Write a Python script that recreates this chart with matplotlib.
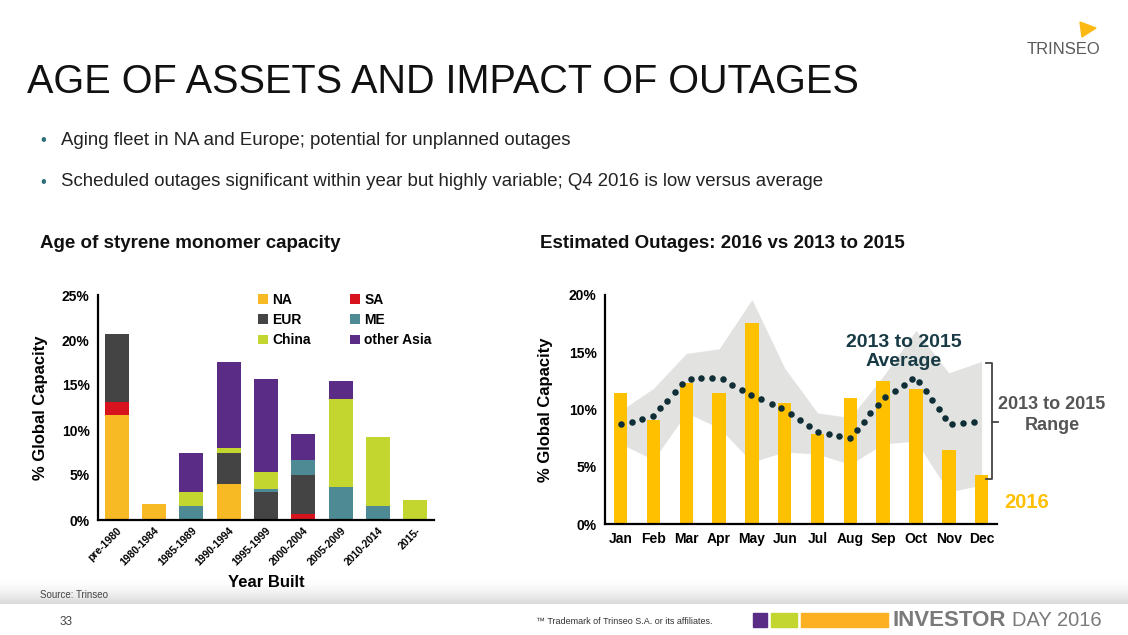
import numpy as np
import matplotlib
matplotlib.use('Agg')
import matplotlib.pyplot as plt
from matplotlib.patches import Rectangle, Polygon

plt.rcParams['font.family'] = ['Liberation Sans', 'DejaVu Sans']

# ---- left chart: age of styrene monomer capacity (% of global) ----
periods = ['pre-1980', '1980-1984', '1985-1989', '1990-1994', '1995-1999',
           '2000-2004', '2005-2009', '2010-2014', '2015-']
na = [11.7, 1.8, 0.0, 4.0, 0.0, 0.0, 0.0, 0.0, 0.0]
sa = [1.4, 0.0, 0.0, 0.0, 0.0, 0.7, 0.0, 0.0, 0.0]
eur = [7.6, 0.0, 0.0, 3.5, 3.1, 4.3, 0.0, 0.0, 0.0]
me = [0.0, 0.0, 1.6, 0.0, 0.3, 1.7, 3.7, 1.6, 0.0]
china = [0.0, 0.0, 1.5, 0.5, 1.9, 0.0, 9.8, 7.6, 2.25]
other_asia = [0.0, 0.0, 4.4, 9.6, 10.4, 2.9, 1.9, 0.0, 0.0]

# ---- right chart: estimated outages ----
months = ['Jan', 'Feb', 'Mar', 'Apr', 'May', 'Jun', 'Jul', 'Aug', 'Sep', 'Oct', 'Nov', 'Dec']
outages_2016 = [11.4, 9.1, 12.3, 11.4, 17.55, 10.6, 7.9, 11.0, 12.5, 11.8, 6.5, 4.3]
range_high = [9.9, 11.85, 14.9, 15.3, 19.6, 13.6, 9.7, 9.3, 12.9, 16.9, 13.2, 14.2]
range_low = [7.0, 5.6, 9.7, 8.4, 5.4, 6.3, 6.1, 5.2, 7.0, 7.25, 2.8, 3.4]
# dotted 2013-2015 average, read dot by dot (x in month units)
avg_x = [0.0, 0.33, 0.65, 0.98, 1.2, 1.42, 1.65, 1.87, 2.13, 2.46, 2.78, 3.11,
         3.39, 3.70, 3.98, 4.28, 4.61, 4.90, 5.19, 5.46, 5.74, 6.02, 6.34, 6.66,
         6.98, 7.20, 7.41, 7.61, 7.84, 8.06, 8.35, 8.62, 8.89, 9.10, 9.30, 9.50,
         9.69, 9.88, 10.11, 10.44, 10.77]
avg_y = [8.70, 8.94, 9.17, 9.43, 10.10, 10.77, 11.50, 12.23, 12.66, 12.72, 12.78, 12.64,
         12.17, 11.73, 11.24, 10.89, 10.51, 10.16, 9.64, 9.11, 8.59, 8.06, 7.89, 7.69,
         7.48, 8.21, 8.94, 9.69, 10.42, 11.09, 11.64, 12.17, 12.69, 12.37, 11.62, 10.80,
         10.01, 9.23, 8.76, 8.85, 8.94]

W, H = 1128, 635
fig = plt.figure(figsize=(W / 100, H / 100), dpi=100)
fig.patch.set_facecolor('white')

# grey fade above footer
grad = np.linspace(0, 1, 64).reshape(-1, 1) ** 1.5
bg = fig.add_axes([0, 1 - 604 / H, 1, 24 / H])
bg.imshow(grad, aspect='auto', cmap=matplotlib.colors.LinearSegmentedColormap.from_list('g', ['#ffffff', '#d9d9d9']),
          extent=[0, 1, 0, 1], origin='upper')
bg.axis('off')


def fx(px):
    return px / W


def fy(py):
    return 1 - py / H


# header
fig.text(fx(27), fy(82), 'AGE OF ASSETS AND IMPACT OF OUTAGES', fontsize=28.5, color='#111111', va='center')
fig.text(fx(1100), fy(50), 'TRINSEO', fontsize=12, color='#5a5a5a', ha='right', va='center')
fig.patches.append(Polygon([[fx(1080), fy(22)], [fx(1096), fy(28)], [fx(1082), fy(37)]],
                           closed=True, transform=fig.transFigure, color='#FDB913'))

bullets = ['Aging fleet in NA and Europe; potential for unplanned outages',
           'Scheduled outages significant within year but highly variable; Q4 2016 is low versus average']
for i, b in enumerate(bullets):
    yy = fy(140 + 42 * i)
    fig.text(fx(40), yy, '\u2022', fontsize=12, color='#2E6F78', va='center')
    fig.text(fx(61), yy, b, fontsize=13.4, color='#222222', va='center')

fig.text(fx(40), fy(244), 'Age of styrene monomer capacity', fontsize=13.5, fontweight='bold', color='#111111', va='center')
fig.text(fx(540), fy(244), 'Estimated Outages: 2016 vs 2013 to 2015', fontsize=13.5, fontweight='bold', color='#111111', va='center')

# ---- left chart ----
ax1 = fig.add_axes([fx(98), fy(520), fx(336), 225 / H])
colors = {'NA': '#F7B924', 'SA': '#D7141E', 'EUR': '#444444',
          'ME': '#4E8A94', 'China': '#C3D62F', 'other Asia': '#5B2C86'}
x = np.arange(len(periods))
bottom = np.zeros(len(periods))
handles = {}
for name, vals in [('NA', na), ('SA', sa), ('EUR', eur), ('ME', me), ('China', china), ('other Asia', other_asia)]:
    handles[name] = ax1.bar(x, vals, 0.64, bottom=bottom, color=colors[name], label=name)
    bottom += np.array(vals)
ax1.set_xlim(-0.5, 8.5)
ax1.set_ylim(0, 25)
ax1.set_yticks([0, 5, 10, 15, 20, 25])
ax1.set_yticklabels(['0%', '5%', '10%', '15%', '20%', '25%'], fontsize=10, fontweight='bold')
ax1.set_xticks(x)
ax1.set_xticklabels(periods, rotation=45, ha='right', rotation_mode='anchor', fontsize=7.5, fontweight='bold')
ax1.tick_params(length=0, pad=6)
ax1.tick_params(axis='x', pad=4)
for s in ['top', 'right']:
    ax1.spines[s].set_visible(False)
for s in ['left', 'bottom']:
    ax1.spines[s].set_linewidth(1.6)
ax1.set_ylabel('% Global Capacity', fontsize=12, fontweight='bold')
ax1.yaxis.set_label_coords(-0.15, 0.5)
ax1.set_xlabel('Year Built', fontsize=12, fontweight='bold', labelpad=0)
ax1.xaxis.set_label_coords(0.5, -0.245)
order = ['NA', 'EUR', 'China', 'SA', 'ME', 'other Asia']
ax1.legend([handles[n] for n in order], order, ncol=2, loc='upper right', bbox_to_anchor=(1.03, 1.065),
           frameon=False, prop={'weight': 'bold', 'size': 10}, handlelength=0.7, handleheight=0.7,
           handletextpad=0.3, columnspacing=2.85, labelspacing=0.45)

# ---- right chart ----
ax2 = fig.add_axes([fx(605), fy(524), fx(392), 229 / H])
m = np.arange(len(months))
ax2.fill_between(m, range_low, range_high, color='#E2E2E0', lw=0, zorder=1)
ax2.bar(m, outages_2016, 0.41, color='#FFC000', zorder=2)
ax2.scatter(avg_x, avg_y, s=22, color='#0F2E36', zorder=3, lw=0)
ax2.set_xlim(-0.48, 11.47)
ax2.set_ylim(0, 20)
ax2.set_yticks([0, 5, 10, 15, 20])
ax2.set_yticklabels(['0%', '5%', '10%', '15%', '20%'], fontsize=10, fontweight='bold')
ax2.set_xticks(m)
ax2.set_xticklabels(months, fontsize=10, fontweight='bold')
ax2.tick_params(length=0, pad=6)
for s in ['top', 'right']:
    ax2.spines[s].set_visible(False)
for s in ['left', 'bottom']:
    ax2.spines[s].set_linewidth(1.6)
ax2.set_ylabel('% Global Capacity', fontsize=12, fontweight='bold')
ax2.yaxis.set_label_coords(-0.133, 0.5)

fig.text(fx(904), fy(352), '2013 to 2015\nAverage', fontsize=14, fontweight='bold', color='#173A45',
         ha='center', va='center', linespacing=1.15)

# range bracket
bx, bt, bb = fx(992), fy(363), fy(479)
fig.lines.append(plt.Line2D([fx(986), bx, bx, fx(986)], [bt, bt, bb, bb], transform=fig.transFigure,
                            color='#444444', lw=1.3))
fig.lines.append(plt.Line2D([bx, fx(998)], [fy(422), fy(422)], transform=fig.transFigure, color='#444444', lw=1.3))
fig.text(fx(1052), fy(415), '2013 to 2015\nRange', fontsize=13, color='#555555', ha='center', va='center',
         linespacing=1.25, fontweight='bold')
fig.text(fx(1027), fy(503), '2016', fontsize=14.5, fontweight='bold', color='#FFC000', ha='center', va='center')

# footer
fig.text(fx(40), fy(595), 'Source: Trinseo', fontsize=7, color='#444444', va='center')
fig.text(fx(66), fy(622), '33', fontsize=8.5, color='#444444', ha='center', va='center')
fig.text(fx(713), fy(622), '\u2122 Trademark of Trinseo S.A. or its affiliates.', fontsize=6.5, color='#333333',
         ha='right', va='center')
for x0, x1, c in [(753, 767, '#5B2C86'), (771, 797, '#C3D62F'), (801, 888, '#FDB022')]:
    fig.patches.append(Rectangle((fx(x0), fy(627)), fx(x1 - x0), 14 / H, transform=fig.transFigure, color=c))
fig.text(fx(893), fy(620), 'INVESTOR', fontsize=16, fontweight='bold', color='#7a7a7a', va='center')
fig.text(fx(1102), fy(620), 'DAY 2016', fontsize=14.5, color='#7a7a7a', va='center', ha='right')

fig.savefig('out.png', dpi=100)
